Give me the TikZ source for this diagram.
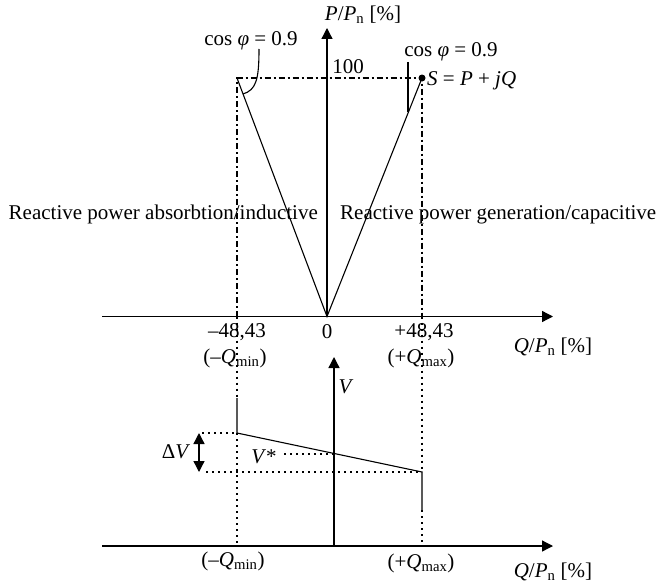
\documentclass[tikz,border=0pt]{standalone}
\usepackage{fontspec}
\setmainfont{Liberation Serif}
\usetikzlibrary{arrows.meta}
\tikzset{
  axis/.style={-{Triangle[length=11pt,width=11pt]},line width=1.3pt},
  dashdot/.style={line width=2pt,dash pattern=on 6pt off 3pt on 2pt off 3pt},
  dotline/.style={line width=2pt,dash pattern=on 2pt off 4pt},
  thinline/.style={line width=1.1pt},
  lbl/.style={font=\fontsize{21}{24}\selectfont,inner sep=0pt}
}

\begin{document}
\begin{tikzpicture}[x=1pt,y=-1pt,>=stealth]
\useasboundingbox (0,0) rectangle (658,586);
% upper chart: P over Q
\coordinate (O) at (327,316.5);
\coordinate (A) at (237,78);
\coordinate (S) at (422,78);
\coordinate (Ab) at (237,316.5);
\coordinate (Sb) at (422,316.5);
\draw[axis] (102,316.5) coordinate (Qa) -- (553,316.5) coordinate (Qb);
\draw[axis] (O) -- (327,28) coordinate (Pt);
\draw[dashdot] (Ab) -- (A) -- (S) -- (Sb);
\draw[thinline] (A) -- (O) -- (S);
\fill (S) circle (3.5pt);
\draw[thinline] (259,49) .. controls (259,80) and (256,90) .. (243,94);
\draw[thinline] (408,62) -- (408,112);
\node[lbl] (pn) at (363,15) {\textit{P}/\textit{P}\textsubscript{n} [\%]};
\node[lbl] (h) at (348,67) {100};
\node[lbl] (cl) at (251,41) {cos \textit{φ} = 0.9};
\node[lbl] (cr) at (451,52) {cos \textit{φ} = 0.9};
\node[lbl,anchor=west] (sl) at (427,81) {\textit{S} = \textit{P} + \textit{jQ}};
\node[lbl,anchor=base east] (ind) at (318,219) {Reactive power absorbtion/inductive};
\node[lbl,anchor=base west] (cap) at (340,219) {Reactive power generation/capacitive};
\node[lbl] (m1) at (237,332) {–48,43};
\node[lbl] (z) at (327,332) {0};
\node[lbl] (p1) at (424,332) {+48,43};
\node[lbl] (qmin) at (235,358) {(–\textit{Q}\textsubscript{min})};
\node[lbl] (qmax) at (421,358) {(+\textit{Q}\textsubscript{max})};
\node[lbl] (qa) at (553,347) {\textit{Q}/\textit{P}\textsubscript{n} [\%]};
% lower chart: V over Q
\coordinate (D1) at (237,398);
\coordinate (D2) at (237,433);
\coordinate (D3) at (422,472);
\coordinate (D4) at (422,510);
\coordinate (Vs) at (334,454);
\draw[axis] (102,546) coordinate (La) -- (553,546) coordinate (Lb);
\draw[axis] (334,546) coordinate (Vo) -- (334,357) coordinate (Vt);
\draw[dotline] (Ab) -- (D1);
\draw[dotline] (D2) -- (237,546);
\draw[dotline] (Sb) -- (D3);
\draw[dotline] (D4) -- (422,546);
\draw[thinline] (D1) -- (D2) -- (D3) -- (D4);
\draw[dotline] (202,433) -- (D2);
\draw[dotline] (206,472) -- (D3);
\draw[dotline] (284,454) -- (Vs);
\draw[{Triangle[length=11pt,width=11pt]}-{Triangle[length=11pt,width=11pt]},line width=1.3pt] (199,433) -- (199,472);
\node[lbl] (vl) at (346,387) {\textit{V}};
\node[lbl] (dv) at (176,452) {Δ\textit{V}};
\node[lbl] (vstar) at (264,457) {\textit{V}*};
\node[lbl] (qmin2) at (233,561) {(–\textit{Q}\textsubscript{min})};
\node[lbl] (qmax2) at (421,563) {(+\textit{Q}\textsubscript{max})};
\node[lbl,anchor=base] (qb) at (553,577) {\textit{Q}/\textit{P}\textsubscript{n} [\%]};
\end{tikzpicture}
\end{document}
